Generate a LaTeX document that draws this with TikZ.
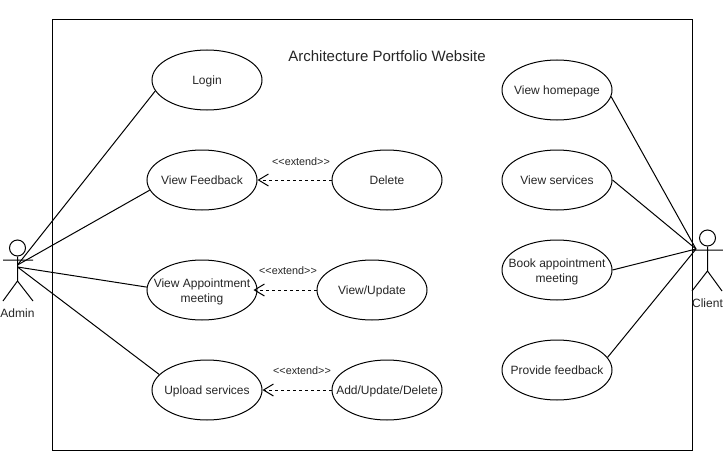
\documentclass[tikz,border=0pt]{standalone}
\usepackage{fontspec}
\setmainfont{Liberation Sans}
\usetikzlibrary{arrows.meta,shapes.geometric}
\tikzset{
  uc/.style={draw=black,fill=white,ellipse,minimum width=110pt,minimum height=60pt,inner sep=-25pt,align=center,font=\fontsize{12}{15}\selectfont,text=black!85,text height=10pt,text depth=1.6pt},
  uctwo/.style={uc,text height=26pt,text depth=2pt},
  lbl/.style={inner sep=0pt,text=black!85,font=\fontsize{12}{14}\selectfont},
  ext/.style={inner sep=0pt,text=black!85,font=\fontsize{10.8}{12}\selectfont},
  assoc/.style={draw=black,line width=1pt},
  extarrow/.style={draw=black,line width=1pt,dash pattern=on 3pt off 3pt,-{Straight Barb[length=10pt,width=12pt,line width=1pt]}},
  actorline/.style={draw=black,line width=1pt}
}
\begin{document}
\begin{tikzpicture}[x=1pt,y=-1pt,line width=1pt]
\useasboundingbox[fill=white] (0,0) rectangle (723,452);
\node[draw=black,line width=1pt,minimum width=640pt,minimum height=430pt,inner sep=0pt] (frame) at (372,235) {};
\node[inner sep=0pt,text=black!85,font=\fontsize{15}{17}\selectfont] (title) at (387,56) {Architecture Portfolio Website};
% use cases
\node[uc] (login) at (207,80) {Login};
\node[uc] (feedback) at (202,180) {View Feedback};
\node[uc] (delete) at (387,180) {Delete};
\node[uctwo] (appt) at (202,290) {View Appointment\\meeting};
\node[uc] (update) at (372,290) {View/Update};
\node[uc] (upload) at (207,390) {Upload services};
\node[uc] (add) at (387,390) {Add/Update/Delete};
\node[uc] (home) at (557,90) {View homepage};
\node[uc] (services) at (557,180) {View services};
\node[uctwo] (book) at (557,270) {Book appointment\\meeting};
\node[uc] (provide) at (557,370) {Provide feedback};
% extend
\draw[extarrow] (delete.west) -- (feedback.east);
\draw[extarrow,shorten >=-4pt] (update.west) -- (appt.east);
\draw[extarrow] (add.west) -- (upload.east);
\node[ext] (e1) at (301,161.5) {{<}{<}extend{>}{>}};
\node[ext] (e2) at (288,270.5) {{<}{<}extend{>}{>}};
\node[ext] (e3) at (302,370.5) {{<}{<}extend{>}{>}};
% admin
\node[draw=black,circle,minimum size=16pt,inner sep=0pt,line width=1pt] (ahead) at (17.5,248) {};
\coordinate (ahip) at (17.5,281);
\coordinate (aarml) at (3,260);
\coordinate (aarmr) at (33,260);
\coordinate (alegl) at (3,301);
\coordinate (alegr) at (33,301);
\coordinate (aport) at (17.5,265);
\coordinate (aportb) at (17.5,267);
\draw[actorline] (ahead.south) -- (ahip) (aarml) -- (aarmr) (alegl) -- (ahip) -- (alegr);
\node[lbl] (alabel) at (17.5,313) {Admin};
\draw[assoc] (aport) -- (login.192);
\draw[assoc] (aport) -- (feedback.191);
\draw[assoc] (aportb) -- (appt.177);
\draw[assoc] (aportb) -- (upload.162);
% client
\node[draw=black,circle,minimum size=16pt,inner sep=0pt,line width=1pt] (chead) at (707.5,238) {};
\coordinate (chip) at (707.5,271);
\coordinate (carml) at (692,250);
\coordinate (carmr) at (723,250);
\coordinate (clegl) at (692,291);
\coordinate (clegr) at (722,291);
\coordinate (cport) at (696,249);
\draw[actorline] (chead.south) -- (chip) (carml) -- (carmr) (clegl) -- (chip) -- (clegr);
\node[lbl] (clabel) at (707.5,303) {Client};
\draw[assoc] (cport) -- (home.-7);
\draw[assoc] (cport) -- (services.east);
\draw[assoc] (cport) -- (book.east);
\draw[assoc] (cport) -- (provide.14);
\end{tikzpicture}
\end{document}
